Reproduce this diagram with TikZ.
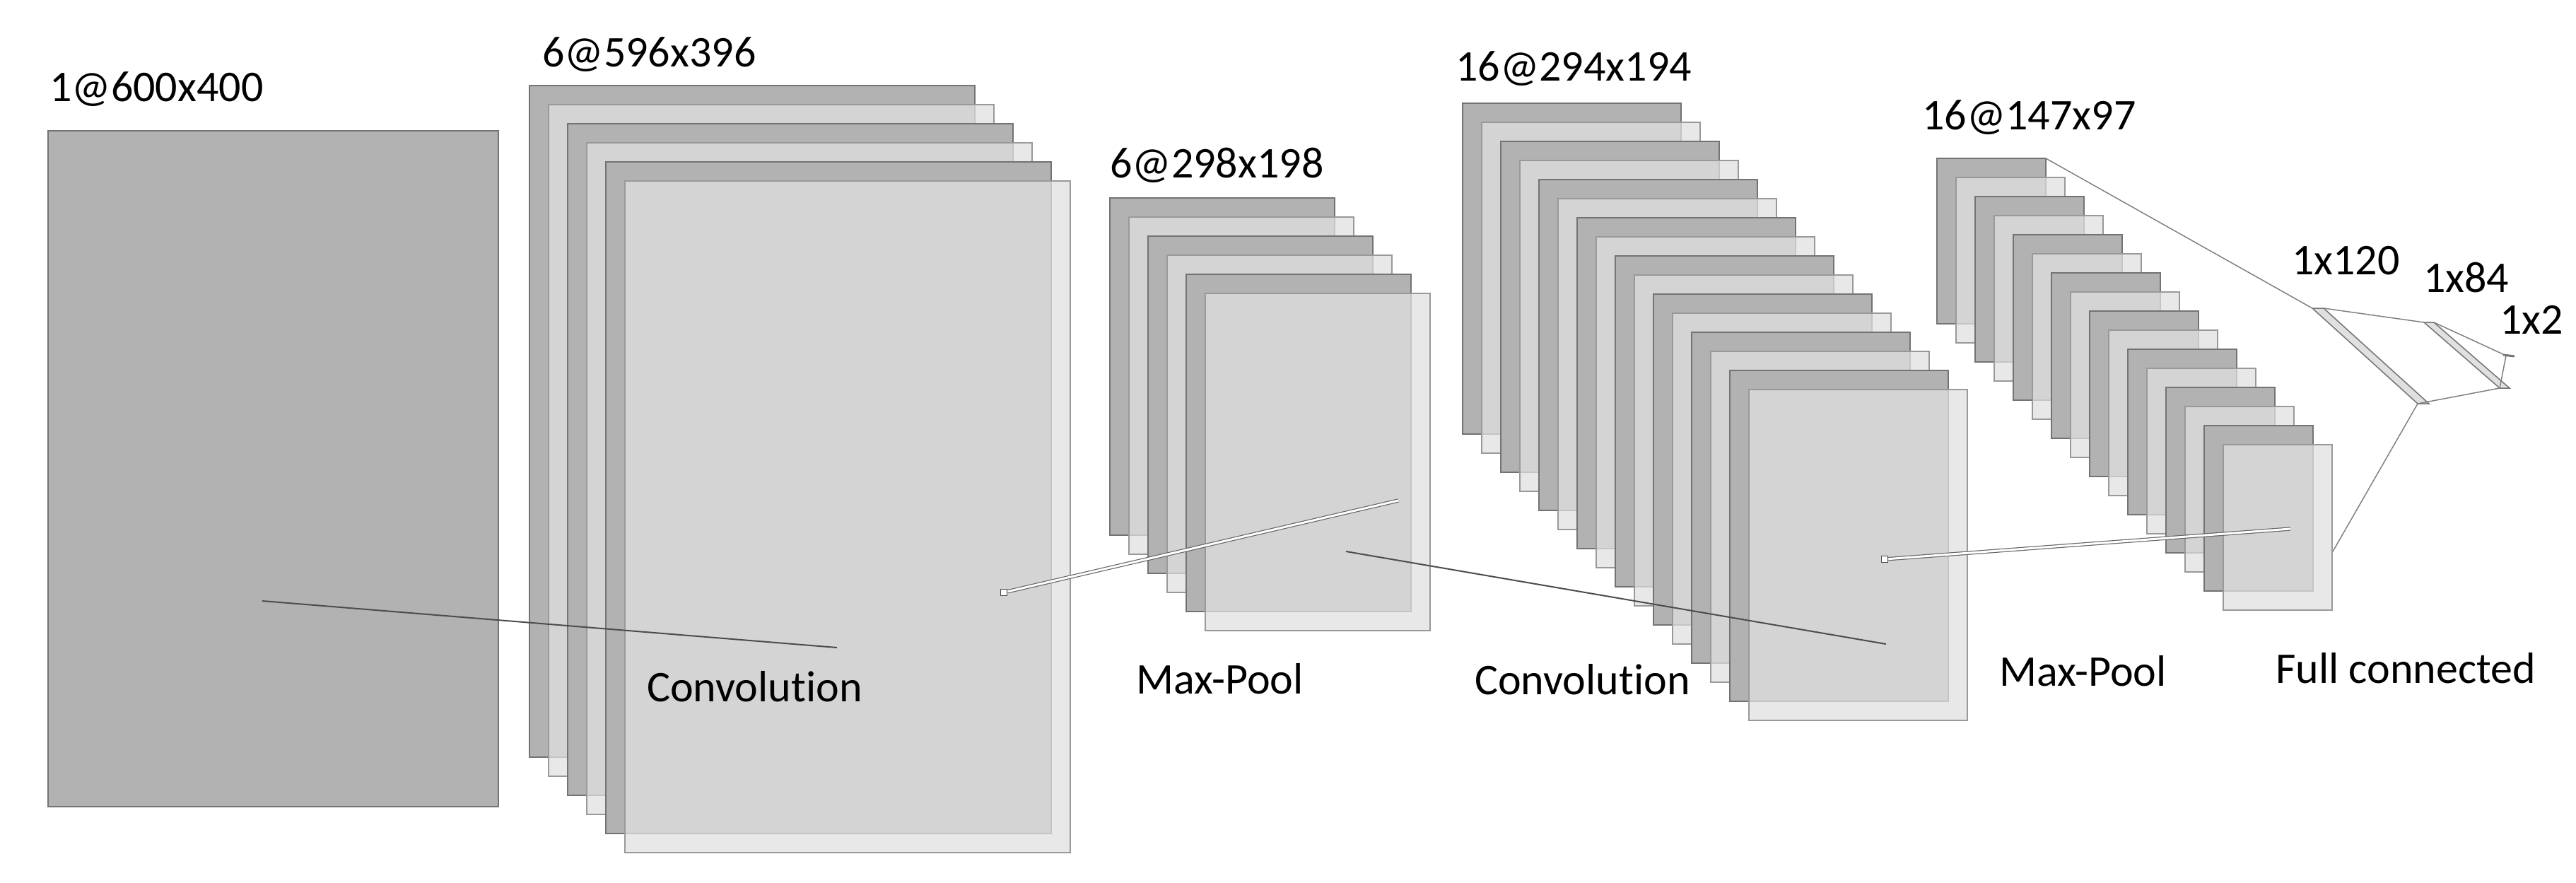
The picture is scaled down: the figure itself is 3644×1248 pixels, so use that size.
\documentclass[tikz,border=0pt]{standalone}
\usepackage{fontspec}
\setmainfont[Ligatures=NoCommon]{Carlito}
\begin{document}
\begin{tikzpicture}[x=1pt,y=-1pt,
  lbl/.style={anchor=west,font=\fontsize{62}{62}\selectfont,inner sep=0pt},
  darkmap/.style={draw=black!55,line width=2pt,fill=black!30,anchor=north west,inner sep=0pt,outer sep=0pt},
  lightmap/.style={draw=black!40,line width=2pt,fill=black!12,fill opacity=0.75,anchor=north west,inner sep=0pt,outer sep=0pt},
  conn/.style={draw=black!70,line width=2pt},
  dconn/.style={draw=black!60,double=white,double distance=3pt,line width=1.2pt},
  fcl/.style={draw=black!55,line width=1.5pt}]
\useasboundingbox (0,0) rectangle (3644,1248);
% input
\node[darkmap,minimum width=637pt,minimum height=956pt] (in) at (68,185) {};
% conv1 : 6 maps
\foreach \i in {0,...,5}{
  \pgfmathtruncatemacro{\r}{mod(\i,2)}
  \ifnum\r=0 \def\st{darkmap}\else\def\st{lightmap}\fi
  \ifnum\i=5 \def\st{lightmap}\fi
  \node[\st,minimum width=630pt,minimum height=950pt] (ca\i) at (749+27*\i,121+27*\i) {};
}
% pool1 : 6 maps
\foreach \i in {0,...,5}{
  \pgfmathtruncatemacro{\r}{mod(\i,2)}
  \ifnum\r=0 \def\st{darkmap}\else\def\st{lightmap}\fi
  \ifnum\i=5 \def\st{lightmap}\fi
  \node[\st,minimum width=318pt,minimum height=477pt] (pa\i) at (1570+27*\i,280+27*\i) {};
}
% conv2 : 16 maps
\foreach \i in {0,...,15}{
  \pgfmathtruncatemacro{\r}{mod(\i,2)}
  \ifnum\r=0 \def\st{darkmap}\else\def\st{lightmap}\fi
  \ifnum\i=15 \def\st{lightmap}\fi
  \node[\st,minimum width=309pt,minimum height=468pt] (cb\i) at (2069+27*\i,146+27*\i) {};
}
% pool2 : 16 maps
\foreach \i in {0,...,15}{
  \pgfmathtruncatemacro{\r}{mod(\i,2)}
  \ifnum\r=0 \def\st{darkmap}\else\def\st{lightmap}\fi
  \ifnum\i=15 \def\st{lightmap}\fi
  \node[\st,minimum width=154pt,minimum height=234pt] (pb\i) at (2740+27*\i,224+27*\i) {};
}
% fully connected layers
\coordinate (f1t) at (3271,436); \coordinate (f1b) at (3420,571);
\coordinate (f2t) at (3429,456); \coordinate (f2b) at (3536,549);
\coordinate (f3) at (3545,503);
\filldraw[fcl,fill=black!12] (3271,436) -- (3287,436) -- (3436,571) -- (3420,571) -- cycle;
\filldraw[fcl,fill=black!12] (3429,456) -- (3443,456) -- (3550,549) -- (3536,549) -- cycle;
\draw[fcl,line width=3pt] (3541,502) -- (3557,504);
% connectors into FC
\coordinate (p2r) at (3300,780);
\draw[black!50,line width=1.5pt] (pb0.north east) -- (f1t);
\draw[black!50,line width=1.5pt] (p2r) -- (f1b);
\draw[black!50,line width=1.5pt] (3287,436) -- (f2t);
\draw[black!50,line width=1.5pt] (f1b) -- (f2b);
\draw[black!50,line width=1.5pt] (3443,456) -- (f3);
\draw[black!50,line width=1.5pt] (f2b) -- (f3);
% convolution / pooling connectors
\coordinate (a1) at (371,850); \coordinate (a2) at (1184,916);
\draw[conn] (a1) -- (a2);
\node[draw=black!70,line width=1.5pt,minimum size=9pt,inner sep=0pt,fill=white] (sq1) at (1420,838) {};
\coordinate (b2) at (1978,708);
\draw[dconn] (sq1) -- (b2);
\coordinate (c1) at (1904,780); \coordinate (c2) at (2668,911);
\draw[conn] (c1) -- (c2);
\node[draw=black!70,line width=1.5pt,minimum size=9pt,inner sep=0pt,fill=white] (sq2) at (2666,791) {};
\coordinate (d2) at (3240,748);
\draw[dconn] (sq2) -- (d2);
% labels
\node[lbl] (l1) at (70,126) {1@600x400};
\node[lbl] (l2) at (767,77) {6@596x396};
\node[lbl] (l3) at (1570,234) {6@298x198};
\node[lbl] (l4) at (2059,97) {16@294x194};
\node[lbl] (l5) at (2719,166) {16@147x97};
\node[lbl] (l6) at (3242,369) {1x120};
\node[lbl] (l7) at (3428,393) {1x84};
\node[lbl] (l8) at (3536,452) {1x2};
\node[lbl] (t1) at (915,971) {Convolution};
\node[lbl] (t2) at (1607,960) {Max-Pool};
\node[lbl] (t3) at (2086,961) {Convolution};
\node[lbl] (t4) at (2828,949) {Max-Pool};
\node[lbl] (t5) at (3219,945) {Full connected};
\end{tikzpicture}
\end{document}
